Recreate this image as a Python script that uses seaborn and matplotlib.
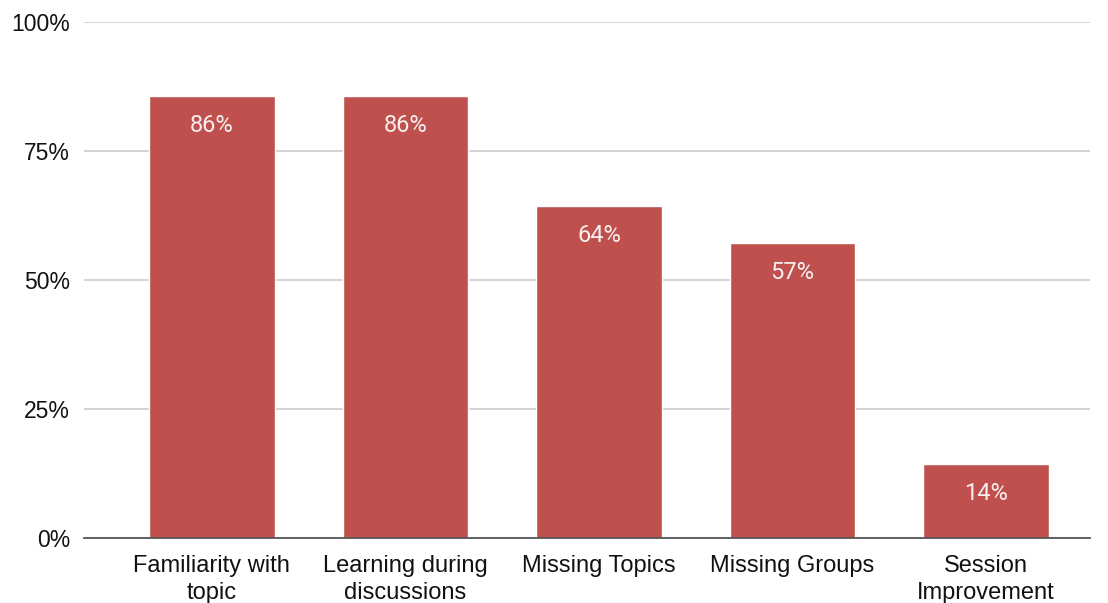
import matplotlib
matplotlib.use("Agg")
import matplotlib.pyplot as plt
import seaborn as sns
import pandas as pd
from matplotlib.ticker import FuncFormatter

categories = ["Familiarity with\ntopic", "Learning during\ndiscussions", "Missing Topics",
              "Missing Groups", "Session\nImprovement"]
values = [85.7, 85.7, 64.3, 57.1, 14.3]
labels = ["86%", "86%", "64%", "57%", "14%"]
yticks = [0, 25, 50, 75, 100]

df = pd.DataFrame({"cat": categories, "val": values})

sns.set_theme(style="white")
plt.rcParams['font.family'] = ['Liberation Sans', 'DejaVu Sans']

fig = plt.figure(figsize=(11.08, 6.03), dpi=100)
ax = fig.add_axes([84/1108, 1-538/603, (1090-84)/1108, (538-22)/603])

sns.barplot(data=df, x="cat", y="val", color="#bf504d", saturation=1, width=0.65, ax=ax, zorder=3)

ax.set_ylim(0, 100)
ax.set_xlim(-0.661, 4.537)
ax.set_yticks(yticks)
ax.yaxis.set_major_formatter(FuncFormatter(lambda v, p: f"{int(v)}%"))
ax.grid(axis="y", color="#cccccc", linewidth=1.2, zorder=0)
ax.set_xlabel("")
ax.set_ylabel("")
for s in ["top", "right", "left"]:
    ax.spines[s].set_visible(False)
ax.spines["bottom"].set_color("#555555")
ax.spines["bottom"].set_linewidth(1.3)
ax.spines["bottom"].set_zorder(4)
ax.tick_params(axis="y", length=0, labelsize=16.5, colors="#111111", pad=10)
ax.tick_params(axis="x", length=0, labelsize=17, colors="#111111", pad=12)
for t in ax.get_xticklabels():
    t.set_linespacing(1.3)

for p, lab in zip(ax.patches, labels):
    ax.annotate(lab, (p.get_x() + p.get_width()/2, p.get_height()),
                xytext=(0, -13), textcoords="offset points", ha="center", va="top",
                color="#f5f0ee", fontsize=17, family=["Roboto", "DejaVu Sans"], zorder=5)

fig.savefig("out.png", dpi=100)
